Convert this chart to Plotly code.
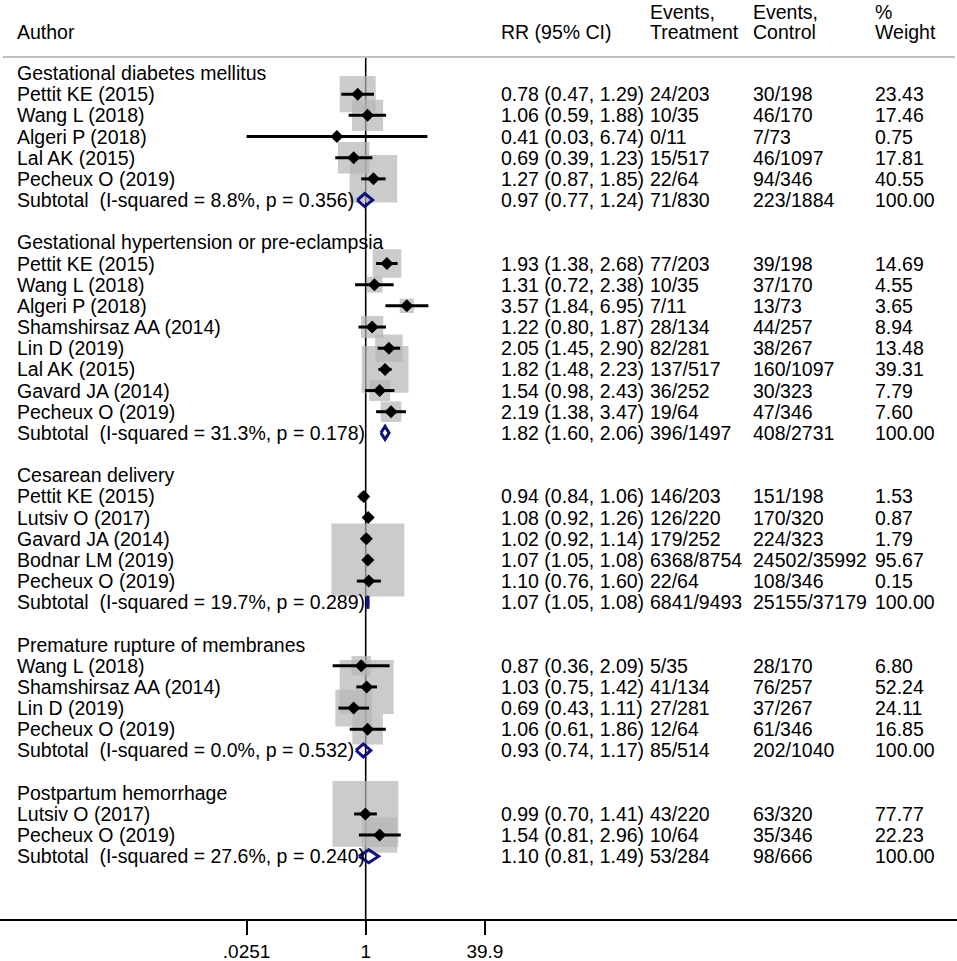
import math
import plotly.graph_objects as go

# ---------------- data ----------------
group_names = [
    "Gestational diabetes mellitus",
    "Gestational hypertension or pre-eclampsia",
    "Cesarean delivery",
    "Premature rupture of membranes",
    "Postpartum hemorrhage",
]

study_group = [0, 0, 0, 0, 0,
               1, 1, 1, 1, 1, 1, 1, 1,
               2, 2, 2, 2, 2,
               3, 3, 3, 3,
               4, 4]

study_author = [
    "Pettit KE (2015)", "Wang L (2018)", "Algeri P (2018)", "Lal AK (2015)", "Pecheux O (2019)",
    "Pettit KE (2015)", "Wang L (2018)", "Algeri P (2018)", "Shamshirsaz AA (2014)", "Lin D (2019)",
    "Lal AK (2015)", "Gavard JA (2014)", "Pecheux O (2019)",
    "Pettit KE (2015)", "Lutsiv O (2017)", "Gavard JA (2014)", "Bodnar LM (2019)", "Pecheux O (2019)",
    "Wang L (2018)", "Shamshirsaz AA (2014)", "Lin D (2019)", "Pecheux O (2019)",
    "Lutsiv O (2017)", "Pecheux O (2019)",
]

study_rr = [0.78, 1.06, 0.41, 0.69, 1.27,
            1.93, 1.31, 3.57, 1.22, 2.05, 1.82, 1.54, 2.19,
            0.94, 1.08, 1.02, 1.07, 1.10,
            0.87, 1.03, 0.69, 1.06,
            0.99, 1.54]
study_lo = [0.47, 0.59, 0.0251, 0.39, 0.87,
            1.38, 0.72, 1.84, 0.80, 1.45, 1.48, 0.98, 1.38,
            0.84, 0.92, 0.92, 1.05, 0.76,
            0.36, 0.75, 0.43, 0.61,
            0.70, 0.81]
study_hi = [1.29, 1.88, 6.74, 1.23, 1.85,
            2.68, 2.38, 6.95, 1.87, 2.90, 2.23, 2.43, 3.47,
            1.06, 1.26, 1.14, 1.08, 1.60,
            2.09, 1.42, 1.11, 1.86,
            1.41, 2.96]
study_evt = ["24/203", "10/35", "0/11", "15/517", "22/64",
             "77/203", "10/35", "7/11", "28/134", "82/281", "137/517", "36/252", "19/64",
             "146/203", "126/220", "179/252", "6368/8754", "22/64",
             "5/35", "41/134", "27/281", "12/64",
             "43/220", "10/64"]
study_evc = ["30/198", "46/170", "7/73", "46/1097", "94/346",
             "39/198", "37/170", "13/73", "44/257", "38/267", "160/1097", "30/323", "47/346",
             "151/198", "170/320", "224/323", "24502/35992", "108/346",
             "28/170", "76/257", "37/267", "61/346",
             "63/320", "35/346"]
study_weight = [23.43, 17.46, 0.75, 17.81, 40.55,
                14.69, 4.55, 3.65, 8.94, 13.48, 39.31, 7.79, 7.60,
                1.53, 0.87, 1.79, 95.67, 0.15,
                6.80, 52.24, 24.11, 16.85,
                77.77, 22.23]

sub_label = [
    "Subtotal\u00a0 (I-squared = 8.8%, p = 0.356)",
    "Subtotal\u00a0 (I-squared = 31.3%, p = 0.178)",
    "Subtotal\u00a0 (I-squared = 19.7%, p = 0.289)",
    "Subtotal\u00a0 (I-squared = 0.0%, p = 0.532)",
    "Subtotal\u00a0 (I-squared = 27.6%, p = 0.240)",
]
sub_rr = [0.97, 1.82, 1.07, 0.93, 1.10]
sub_lo = [0.77, 1.60, 1.05, 0.74, 0.81]
sub_hi = [1.24, 2.06, 1.08, 1.17, 1.49]
sub_evt = ["71/830", "396/1497", "6841/9493", "85/514", "53/284"]
sub_evc = ["223/1884", "408/2731", "25155/37179", "202/1040", "98/666"]
sub_weight = [100.00, 100.00, 100.00, 100.00, 100.00]

tick_vals = [0.0251, 1, 39.9]
tick_text = [".0251", "1", "39.9"]

# ---------------- layout helpers ----------------
W, H = 957, 961
ROW0, ROWH = 73.0, 21.17
AXIS_PX = 919.0
X1_PX, PX_PER_DEC = 365.7, 74.44
FONT = "Liberation Sans, Arial, sans-serif"
FS = 19.5

def prow(px):
    return (px - ROW0) / ROWH

def paper_x(px):
    return px / W

# assign rows
rows_header, rows_study, rows_sub = [], [], []
r = 0
for g in range(len(group_names)):
    rows_header.append(r)
    r += 1
    for i, gg in enumerate(study_group):
        if gg == g:
            rows_study.append(r)
            r += 1
    rows_sub.append(r)
    r += 2

col_x = {"author": 17, "rr": 500.7, "evt": 650, "evc": 753, "w": 875}

annotations = []

def add_text(txt, px, row):
    annotations.append(dict(
        x=paper_x(px), xref="paper", y=row, yref="y", text=txt,
        xanchor="left", yanchor="middle", showarrow=False,
        borderpad=0, borderwidth=0,
        font=dict(family=FONT, size=FS, color="black")))

def fmt_ci(rr, lo, hi):
    return f"{rr:.2f} ({lo:.2f}, {hi:.2f})"

# column headers
add_text("Author", col_x["author"], prow(32))
add_text("RR (95% CI)", col_x["rr"], prow(32))
add_text("Events,", col_x["evt"], prow(12))
add_text("Treatment", col_x["evt"], prow(32))
add_text("Events,", col_x["evc"], prow(12))
add_text("Control", col_x["evc"], prow(32))
add_text("%", col_x["w"], prow(12))
add_text("Weight", col_x["w"], prow(32))

for g, name in enumerate(group_names):
    add_text(name, col_x["author"], rows_header[g])
for i in range(len(study_author)):
    rw = rows_study[i]
    add_text(study_author[i], col_x["author"], rw)
    add_text(fmt_ci(study_rr[i], study_lo[i], study_hi[i]), col_x["rr"], rw)
    add_text(study_evt[i], col_x["evt"], rw)
    add_text(study_evc[i], col_x["evc"], rw)
    add_text(f"{study_weight[i]:.2f}", col_x["w"], rw)
for g in range(len(group_names)):
    rw = rows_sub[g]
    add_text(sub_label[g], col_x["author"], rw)
    add_text(fmt_ci(sub_rr[g], sub_lo[g], sub_hi[g]), col_x["rr"], rw)
    add_text(sub_evt[g], col_x["evt"], rw)
    add_text(sub_evc[g], col_x["evc"], rw)
    add_text(f"{sub_weight[g]:.2f}", col_x["w"], rw)

fig = go.Figure()

# weight boxes
fig.add_trace(go.Scatter(
    x=study_rr, y=rows_study, mode="markers",
    marker=dict(symbol="square", size=[7.46 * math.sqrt(w) for w in study_weight],
                color="#b5b5b5", line=dict(width=0)),
    hoverinfo="skip", showlegend=False))

# CI lines
cx, cy = [], []
for i in range(len(study_rr)):
    cx += [study_lo[i], study_hi[i], None]
    cy += [rows_study[i], rows_study[i], None]
fig.add_trace(go.Scatter(x=cx, y=cy, mode="lines",
                         line=dict(color="black", width=3),
                         hoverinfo="skip", showlegend=False))

# point estimates
fig.add_trace(go.Scatter(
    x=study_rr, y=rows_study, mode="markers",
    marker=dict(symbol="diamond", size=10, color="black", line=dict(width=0)),
    hoverinfo="skip", showlegend=False))

# subtotal diamonds
hh = 6.5 / ROWH
dx, dy = [], []
for g in range(len(sub_rr)):
    rw = rows_sub[g]
    dx += [sub_lo[g], sub_rr[g], sub_hi[g], sub_rr[g], sub_lo[g], None]
    dy += [rw, rw - hh, rw, rw + hh, rw, None]
fig.add_trace(go.Scatter(x=dx, y=dy, mode="lines",
                         line=dict(color="#10107e", width=3),
                         hoverinfo="skip", showlegend=False))

shapes = [
    # header rule
    dict(type="line", xref="paper", yref="y", x0=paper_x(3), x1=paper_x(955),
         y0=prow(57), y1=prow(57), line=dict(color="#c0c0c0", width=2)),
    # null line
    dict(type="line", xref="x", yref="y", x0=1, x1=1,
         y0=prow(57), y1=prow(AXIS_PX), line=dict(color="black", width=1.6),
         layer="below"),
]

fig.update_layout(
    width=W, height=H,
    margin=dict(l=0, r=0, t=0, b=H - AXIS_PX),
    paper_bgcolor="white", plot_bgcolor="white",
    showlegend=False,
    annotations=annotations,
    shapes=shapes,
    xaxis=dict(type="log",
               range=[(0 - X1_PX) / PX_PER_DEC, (W - X1_PX) / PX_PER_DEC],
               tickvals=tick_vals, ticktext=tick_text,
               ticks="outside", ticklen=14, tickwidth=2, tickcolor="black",
               showline=True, linecolor="black", linewidth=2,
               showgrid=False, zeroline=False,
               tickfont=dict(family=FONT, size=19, color="black")),
    yaxis=dict(range=[prow(AXIS_PX), prow(0)], visible=False,
               showgrid=False, zeroline=False),
)

fig.write_html("out.html", config={"displayModeBar": False},
               post_script="document.body.style.margin='0';")
